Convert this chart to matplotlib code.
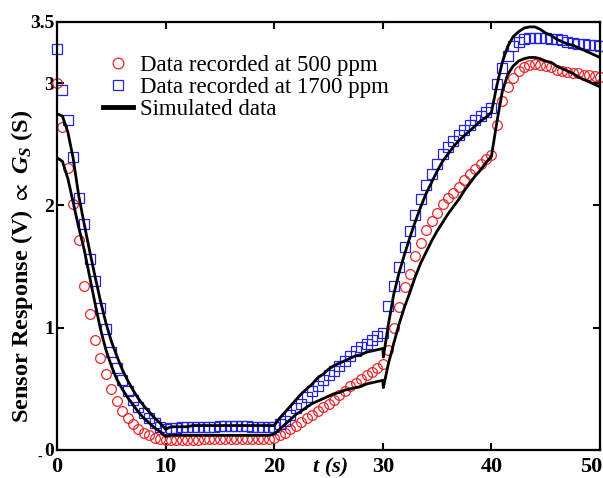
import matplotlib
matplotlib.use("Agg")
import matplotlib.pyplot as plt
from matplotlib.transforms import ScaledTranslation

# ===== DATA =====
T = [0, 0.5, 1, 1.5, 2, 2.5, 3, 3.5, 4, 4.5,
     5, 5.5, 6, 6.5, 7, 7.5, 8, 8.5, 9, 9.5,
     10, 10.5, 11, 11.5, 12, 12.5, 13, 13.5, 14, 14.5,
     15, 15.5, 16, 16.5, 17, 17.5, 18, 18.5, 19, 19.5,
     20, 20.5, 21, 21.5, 22, 22.5, 23, 23.5, 24, 24.5,
     25, 25.5, 26, 26.5, 27, 27.5, 28, 28.5, 29, 29.5,
     30, 30.5, 31, 31.5, 32, 32.5, 33, 33.5, 34, 34.5,
     35, 35.5, 36, 36.5, 37, 37.5, 38, 38.5, 39, 39.5,
     40, 40.5, 41, 41.5, 42, 42.5, 43, 43.5, 44, 44.5,
     45, 45.5, 46, 46.5, 47, 47.5, 48, 48.5, 49, 49.5, 50]

# 500 ppm (circulos vermelhos)
RED = [3.00, 2.64, 2.31, 2.01, 1.72, 1.34, 1.11, 0.90, 0.75, 0.62,
       0.50, 0.40, 0.32, 0.26, 0.21, 0.17, 0.14, 0.12, 0.10, 0.09,
       0.08, 0.08, 0.08, 0.08, 0.08, 0.08, 0.08, 0.09, 0.09, 0.09,
       0.09, 0.09, 0.09, 0.09, 0.09, 0.09, 0.09, 0.09, 0.09, 0.09,
       0.10, 0.12, 0.14, 0.17, 0.20, 0.23, 0.26, 0.29, 0.32, 0.35,
       0.38, 0.41, 0.45, 0.48, 0.52, 0.55, 0.58, 0.61, 0.64, 0.67,
       0.70, 0.82, 1.00, 1.17, 1.33, 1.44, 1.59, 1.69, 1.80, 1.87,
       1.94, 2.01, 2.06, 2.10, 2.15, 2.21, 2.26, 2.30, 2.34, 2.38,
       2.41, 2.66, 2.85, 2.97, 3.04, 3.10, 3.13, 3.15, 3.16, 3.15,
       3.14, 3.13, 3.11, 3.10, 3.09, 3.08, 3.08, 3.07, 3.07, 3.06, 3.05]

# 1700 ppm (quadrados azuis)
BLUE = [3.28, 2.94, 2.70, 2.40, 2.06, 1.85, 1.56, 1.38, 1.16, 0.99,
        0.80, 0.67, 0.57, 0.48, 0.41, 0.35, 0.30, 0.26, 0.22, 0.19,
        0.17, 0.18, 0.18, 0.19, 0.19, 0.19, 0.19, 0.19, 0.19, 0.19,
        0.20, 0.20, 0.20, 0.20, 0.20, 0.20, 0.19, 0.19, 0.19, 0.19,
        0.19, 0.21, 0.24, 0.29, 0.34, 0.38, 0.43, 0.48, 0.52, 0.57,
        0.61, 0.65, 0.69, 0.73, 0.77, 0.81, 0.84, 0.87, 0.90, 0.93,
        0.96, 1.18, 1.34, 1.50, 1.66, 1.79, 1.92, 2.05, 2.17, 2.26,
        2.34, 2.42, 2.48, 2.53, 2.58, 2.62, 2.66, 2.70, 2.73, 2.76,
        2.80, 2.99, 3.12, 3.22, 3.30, 3.34, 3.36, 3.37, 3.37, 3.37,
        3.37, 3.36, 3.36, 3.35, 3.34, 3.33, 3.32, 3.32, 3.31, 3.31, 3.30]

# simulado: mesmo tempo + um ponto extra logo depois de 30 s
SIM_T = T[:61] + [30.05] + T[61:]

SIM_HI = [2.75, 2.73, 2.60, 2.38, 2.08, 1.85, 1.63, 1.42, 1.22, 1.04,
          0.89, 0.77, 0.66, 0.57, 0.49, 0.42, 0.36, 0.31, 0.26, 0.22,
          0.17, 0.19, 0.19, 0.19, 0.19, 0.20, 0.20, 0.20, 0.20, 0.20,
          0.20, 0.20, 0.20, 0.20, 0.20, 0.20, 0.20, 0.20, 0.20, 0.20,
          0.20, 0.26, 0.31, 0.36, 0.41, 0.46, 0.50, 0.54, 0.59, 0.62,
          0.66, 0.69, 0.71, 0.73, 0.75, 0.77, 0.78, 0.80, 0.81, 0.82,
          0.83, 0.76,
          1.02, 1.27, 1.45, 1.60, 1.74, 1.87, 1.99, 2.10, 2.19, 2.28,
          2.36, 2.42, 2.48, 2.53, 2.57, 2.61, 2.65, 2.69, 2.72, 2.76,
          2.98, 3.17, 3.30, 3.38, 3.42, 3.45, 3.46, 3.46, 3.44, 3.41,
          3.39, 3.36, 3.34, 3.32, 3.31, 3.29, 3.27, 3.25, 3.23, 3.21]

SIM_LO = [2.39, 2.36, 2.22, 2.02, 1.82, 1.64, 1.42, 1.20, 0.99, 0.82,
          0.69, 0.58, 0.50, 0.43, 0.37, 0.31, 0.26, 0.22, 0.18, 0.15,
          0.11, 0.12, 0.12, 0.12, 0.12, 0.12, 0.12, 0.12, 0.12, 0.12,
          0.12, 0.12, 0.12, 0.12, 0.12, 0.12, 0.12, 0.12, 0.12, 0.12,
          0.13, 0.17, 0.21, 0.25, 0.29, 0.32, 0.35, 0.38, 0.40, 0.42,
          0.44, 0.46, 0.47, 0.49, 0.50, 0.51, 0.52, 0.54, 0.55, 0.56,
          0.57, 0.51,
          0.70, 0.87, 1.03, 1.17, 1.29, 1.42, 1.53, 1.62, 1.71, 1.79,
          1.86, 1.93, 1.99, 2.05, 2.12, 2.18, 2.24, 2.29, 2.35, 2.40,
          2.68, 2.93, 3.07, 3.14, 3.18, 3.20, 3.21, 3.21, 3.20, 3.18,
          3.17, 3.14, 3.12, 3.10, 3.08, 3.05, 3.03, 3.01, 2.99, 2.97]

X_TICKS = [0, 10, 20, 30, 40, 50]
Y_TICKS = [0, 1, 2, 3, 3.5]
Y_TICK_LABELS = ["0", "1", "2", "3", "3.5"]

LABEL_RED = "Data recorded at 500 ppm"
LABEL_BLUE = "Data recorded at 1700 ppm"
LABEL_SIM = "Simulated data"

# ===== ESTILO =====
plt.rcParams["font.family"] = ["Liberation Serif", "DejaVu Serif"]
plt.rcParams["mathtext.fontset"] = "custom"
plt.rcParams["mathtext.rm"] = "Liberation Serif:bold"
plt.rcParams["mathtext.it"] = "Liberation Serif:italic:bold"
plt.rcParams["mathtext.bf"] = "Liberation Serif:bold"
plt.rcParams["mathtext.fallback"] = "stix"

fig = plt.figure(figsize=(6.03, 4.78), dpi=100)
ax = fig.add_axes([57 / 603, 28 / 478, 543 / 603, 428 / 478])

ax.plot(T, RED, linestyle="none", marker="o", markersize=7,
        markerfacecolor="none", markeredgecolor="#e8262a",
        markeredgewidth=0.9, label=LABEL_RED, clip_on=False)
ax.plot(T, BLUE, linestyle="none", marker="s", markersize=6.8,
        markerfacecolor="none", markeredgecolor="#2424dc",
        markeredgewidth=0.9, label=LABEL_BLUE, clip_on=False)
ax.plot(SIM_T, SIM_HI, color="black", linewidth=2.0, label=LABEL_SIM, zorder=3)
ax.plot(SIM_T, SIM_LO, color="black", linewidth=2.0, zorder=3)

ax.set_xlim(0, 50)
ax.set_ylim(0, 3.5)
ax.set_xticks(X_TICKS)
ax.set_yticks(Y_TICKS)
ax.set_yticklabels(Y_TICK_LABELS)

ax.tick_params(direction="in", length=5, width=1.5, top=True, right=True)
ax.tick_params(axis="x", labelsize=16, pad=5)
ax.tick_params(axis="y", labelsize=14, pad=2)
for lab in ax.get_xticklabels() + ax.get_yticklabels():
    lab.set_fontweight("bold")

# "50" fica encostado na borda: empurra um pouco para dentro
ultimo = ax.xaxis.get_major_ticks()[-1].label1
ultimo.set_transform(ultimo.get_transform() + ScaledTranslation(-9 / 100, 0, fig.dpi_scale_trans))

for s in ax.spines.values():
    s.set_linewidth(1.6)

ax.set_ylabel(r"Sensor Response (V) $\propto$ $G_S$ (S)", fontsize=17.5,
              fontweight="bold")
ax.yaxis.set_label_coords(-0.040, 0.43)

fig.text(331 / 603, 1 - 472 / 478, "t (s)", fontsize=16, fontweight="bold",
         fontstyle="italic", ha="center", va="baseline")

fig.text(40 / 603, 1 - 457 / 478, "-", fontsize=10, ha="center", va="center")

leg = ax.legend(loc="upper left", bbox_to_anchor=(0.068, 0.945), frameon=False,
                fontsize=16.5, handlelength=1.3, handletextpad=0.3,
                labelspacing=0.05, borderaxespad=0, markerscale=1.1)
for line in leg.get_lines():
    if line.get_label() == LABEL_SIM:
        line.set_linewidth(3.5)

fig.savefig("out.png", dpi=100)
